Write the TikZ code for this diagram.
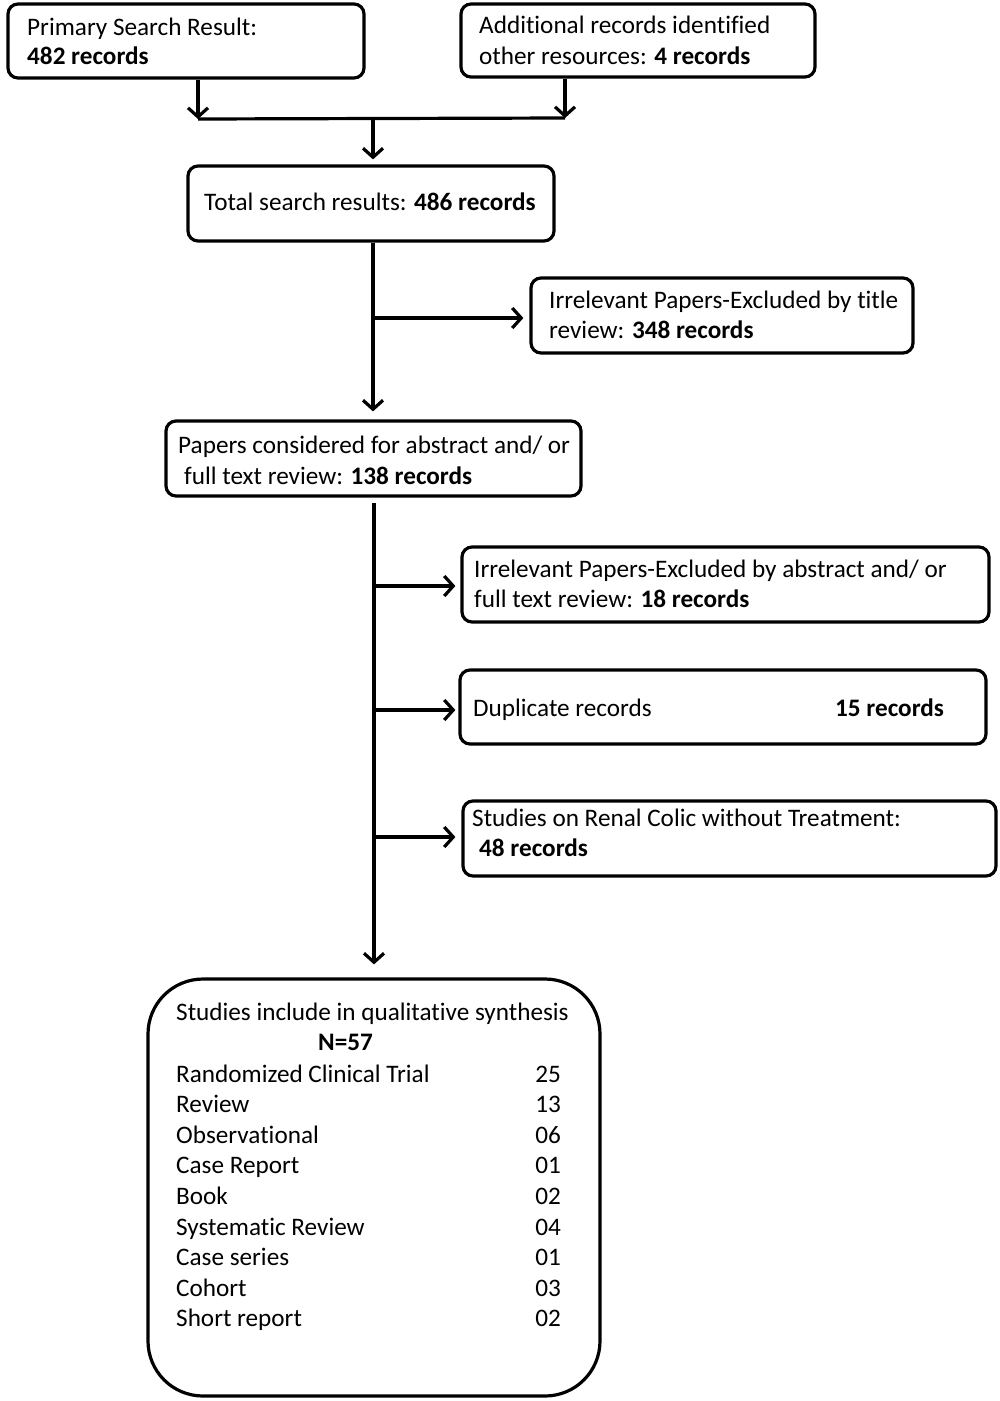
\documentclass[tikz,border=0pt]{standalone}
\usepackage{fontspec}
\setmainfont{Carlito}[Ligatures=CommonOff]
\usetikzlibrary{arrows.meta}
\begin{document}
\begin{tikzpicture}[x=1pt,y=-1pt,
  box/.style={draw=black,line width=3.2pt,rounded corners=10pt,inner sep=0pt},
  txt/.style={anchor=base west,inner sep=0pt,font=\fontsize{25.2}{30}\selectfont},
  num/.style={anchor=base east,inner sep=0pt,font=\fontsize{25.2}{30}\selectfont},
  conn/.style={line width=3.2pt},
  arr/.style={line width=3.2pt,-{Straight Barb[length=9pt,width=20pt,line width=3.2pt]}}]
\useasboundingbox (0,0) rectangle (1000,1401);
% boxes
\node[box,minimum width=356pt,minimum height=74pt] (p) at (186,41) {};
\node[box,minimum width=354pt,minimum height=73pt] (a) at (638,40.5) {};
\node[box,minimum width=366pt,minimum height=75pt] (t) at (371,203.5) {};
\node[box,minimum width=382pt,minimum height=75pt] (x1) at (722,315.5) {};
\node[box,minimum width=415pt,minimum height=75pt] (c) at (373.5,458.5) {};
\node[box,minimum width=527pt,minimum height=75pt] (x2) at (725.5,584.5) {};
\node[box,minimum width=526pt,minimum height=74pt] (x3) at (723,707) {};
\node[box,minimum width=533pt,minimum height=75pt] (x4) at (729.5,838.5) {};
\node[box,rounded corners=55pt,minimum width=452pt,minimum height=417pt] (f) at (374,1187.5) {};
% texts
\node[txt] (p1) at (27,35) {Primary Search Result:};
\node[txt] (p2) at (27,64) {\textbf{482 records}};
\node[txt] (a1) at (479,33) {Additional records identified};
\node[txt] (a2) at (479,64) {other resources: \textbf{4 records}};
\node[txt] (t1) at (204,210) {Total search results: \textbf{486 records}};
\node[txt] (x11) at (549,308) {Irrelevant Papers-Excluded by title};
\node[txt] (x12) at (549,338) {review: \textbf{348 records}};
\node[txt] (c1) at (178,453) {Papers considered for abstract and/ or};
\node[txt] (c2) at (184,484) {full text review: \textbf{138 records}};
\node[txt] (x21) at (474,577) {Irrelevant Papers-Excluded by abstract and/ or};
\node[txt] (x22) at (474,607) {full text review: \textbf{18 records}};
\node[txt] (x31) at (473,716) {Duplicate records};
\node[txt] (x32) at (835,716) {\textbf{15 records}};
\node[txt] (x41) at (472,826) {Studies on Renal Colic without Treatment:};
\node[txt] (x42) at (479,856) {\textbf{48 records}};
\node[txt] (f1) at (176,1020) {Studies include in qualitative synthesis};
\node[txt] (f2) at (318,1050) {\textbf{N=57}};
\foreach \lab/\n/\k in {Randomized Clinical Trial/25/0, Review/13/1, Observational/06/2, Case Report/01/3, Book/02/4, Systematic Review/04/5, Case series/01/6, Cohort/03/7, Short report/02/8}{
  \node[txt] (fl\k) at (176,1082+30.6*\k) {\lab};
  \node[num] (fn\k) at (561,1082+30.6*\k) {\n};
}
% junction coordinates
\coordinate (j1) at (198,119);
\coordinate (j2) at (565,118);
\coordinate (j3) at (373,118.5);
\coordinate (b1) at (373,318);
\coordinate (s2) at (374,503);
\coordinate (b2) at (374,586);
\coordinate (b3) at (374,710);
\coordinate (b4) at (374,837);
% connectors
\draw[arr] (p.south -| j1) -- (j1);
\draw[arr] (a.south -| j2) -- (j2);
\draw[conn] (j1) -- (j2);
\draw[arr,shorten >=5pt] (j3) -- (t.north -| j3);
\draw[arr,shorten >=8pt] (t.south -| j3) -- (c.north -| j3);
\draw[arr,shorten >=6pt] (b1) -- (x1.west |- b1);
\draw[arr,shorten >=13pt] (s2) -- (f.north -| s2);
\draw[arr,shorten >=5pt] (b2) -- (x2.west |- b2);
\draw[arr,shorten >=3pt] (b3) -- (x3.west |- b3);
\draw[arr,shorten >=6pt] (b4) -- (x4.west |- b4);
\end{tikzpicture}
\end{document}
